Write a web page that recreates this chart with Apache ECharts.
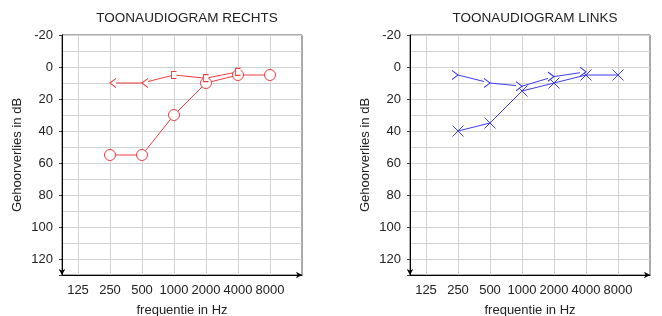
<!DOCTYPE html>
<html>
<head>
<meta charset="utf-8">
<script src="https://cdn.jsdelivr.net/npm/echarts@6/dist/echarts.min.js"></script>
<style>
  html, body { margin: 0; padding: 0; background: #fff; }
  #chart { width: 662px; height: 316px; }
</style>
</head>
<body>
<div id="chart"></div>
<script>
// frequencies on the x axis, one octave apart
const freqLabels = ['125', '250', '500', '1000', '2000', '4000', '8000'];
// hearing loss in dB, index matches freqLabels
const rightAir = [null, 55, 55, 30, 10, 5, 5];
const rightBone = [null, 10, 10, 5, 7, 3, null];
const rightBoneSymbols = [null, '<', '<', '[', '[', '[', null];
const leftAir = [null, 40, 35, 15, 10, 5, 5];
const leftBone = [null, 5, 10, 12, 6, 3, null];
const leftBoneSymbols = [null, '>', '>', '>', '>', '>', null];

const RED = '#f03c3c';
const BLUE = '#3c3cf0';
const FONT = '"Liberation Sans", Arial, sans-serif';

// audiogram symbols
const SYMBOLS = {
  'O': { symbol: 'circle', size: 11, offset: [0, 0] },
  'X': { symbol: 'path://M0,0L10,10M10,0L0,10', size: [11, 11], offset: [0, 0] },
  '<': { symbol: 'path://M8,0L0,5L8,10', size: [6, 9], offset: [3, 0] },
  '>': { symbol: 'path://M0,0L8,5L0,10', size: [6, 9], offset: [-3, 0] },
  '[': { symbol: 'path://M6,0L0,0L0,10L6,10', size: [5, 7], offset: [0, 0] }
};

function toData(values, symbols, fixed) {
  const out = [];
  values.forEach(function (v, i) {
    if (v == null) return;
    const s = SYMBOLS[symbols ? symbols[i] : fixed];
    out.push({
      value: [i, v],
      symbol: s.symbol,
      symbolSize: s.size,
      symbolOffset: s.offset
    });
  });
  return out;
}

const chart = echarts.init(document.getElementById('chart'), null, { renderer: 'canvas' });

const grids = [
  { left: 62, top: 35, width: 240, height: 240 },
  { left: 410, top: 35, width: 240, height: 240 }
];

function xAxisFor(gi) {
  return {
    type: 'value',
    gridIndex: gi,
    min: -0.5,
    max: 7,
    interval: 0.5,
    name: 'frequentie in Hz',
    nameLocation: 'middle',
    nameGap: 29,
    nameTextStyle: { color: '#222', fontSize: 13, fontFamily: FONT },
    axisLine: {
      show: true,
      onZero: false,
      symbol: ['none', 'arrow'],
      symbolSize: [5, 6],
      lineStyle: { color: '#000', width: 1 }
    },
    axisTick: { show: false },
    axisLabel: {
      margin: 9,
      color: '#222',
      fontSize: 13,
      fontFamily: FONT,
      formatter: function (v) {
        return Number.isInteger(v) && freqLabels[v] ? freqLabels[v] : '';
      }
    },
    splitLine: {
      show: true,
      showMaxLine: false,
      lineStyle: { color: ['rgba(0,0,0,0)', '#d2d2d2'], width: 1 }
    }
  };
}

function yAxesFor(gi) {
  return [
    {
      // 10 dB grid
      type: 'value',
      gridIndex: gi,
      position: 'left',
      inverse: true,
      min: -20,
      max: 130,
      interval: 10,
      axisLine: { show: false, onZero: false },
      axisTick: { show: false },
      axisLabel: { show: false },
      splitLine: { show: true, lineStyle: { color: '#d2d2d2', width: 1 } }
    },
    {
      // labelled axis every 20 dB
      type: 'value',
      gridIndex: gi,
      position: 'left',
      inverse: true,
      min: -20,
      max: 130,
      interval: 20,
      name: 'Gehoorverlies in dB',
      nameLocation: 'middle',
      nameGap: 38,
      nameTextStyle: { color: '#222', fontSize: 13, fontFamily: FONT },
      axisLine: {
        show: true,
        onZero: false,
        symbol: ['arrow', 'none'],
        symbolSize: [5, 6],
        lineStyle: { color: '#000', width: 1 }
      },
      axisTick: { show: true, length: 3, lineStyle: { color: '#333' } },
      axisLabel: {
        margin: 9,
        color: '#222',
        fontSize: 13,
        fontFamily: FONT,
        formatter: function (v) { return v % 20 === 0 ? String(v) : ''; }
      },
      splitLine: { show: false }
    }
  ];
}

function lineSeries(gi, data, color) {
  return {
    type: 'line',
    xAxisIndex: gi,
    yAxisIndex: gi * 2,
    data: data,
    showAllSymbol: true,
    animation: false,
    lineStyle: { color: color, width: 1 },
    itemStyle: { color: '#fff', borderColor: color, borderWidth: 1 },
    emphasis: { disabled: true },
    z: 5
  };
}

const titleStyle = { color: '#222', fontSize: 13.5, fontWeight: 'normal', fontFamily: FONT };

const option = {
  backgroundColor: '#fff',
  animation: false,
  title: [
    { text: 'TOONAUDIOGRAM RECHTS', left: 182, top: 6, textAlign: 'center', textStyle: titleStyle },
    { text: 'TOONAUDIOGRAM LINKS', left: 530, top: 6, textAlign: 'center', textStyle: titleStyle }
  ],
  grid: grids.map(function (g) {
    return Object.assign({
      show: true,
      borderColor: '#555',
      borderWidth: 1,
      backgroundColor: 'transparent',
      containLabel: false,
      outerBoundsMode: 'none'
    }, g);
  }),
  xAxis: [xAxisFor(0), xAxisFor(1)],
  yAxis: yAxesFor(0).concat(yAxesFor(1)),
  series: [
    lineSeries(0, toData(rightAir, null, 'O'), RED),
    lineSeries(0, toData(rightBone, rightBoneSymbols), RED),
    lineSeries(1, toData(leftAir, null, 'X'), BLUE),
    lineSeries(1, toData(leftBone, leftBoneSymbols), BLUE)
  ]
};

chart.setOption(option);
</script>
</body>
</html>
